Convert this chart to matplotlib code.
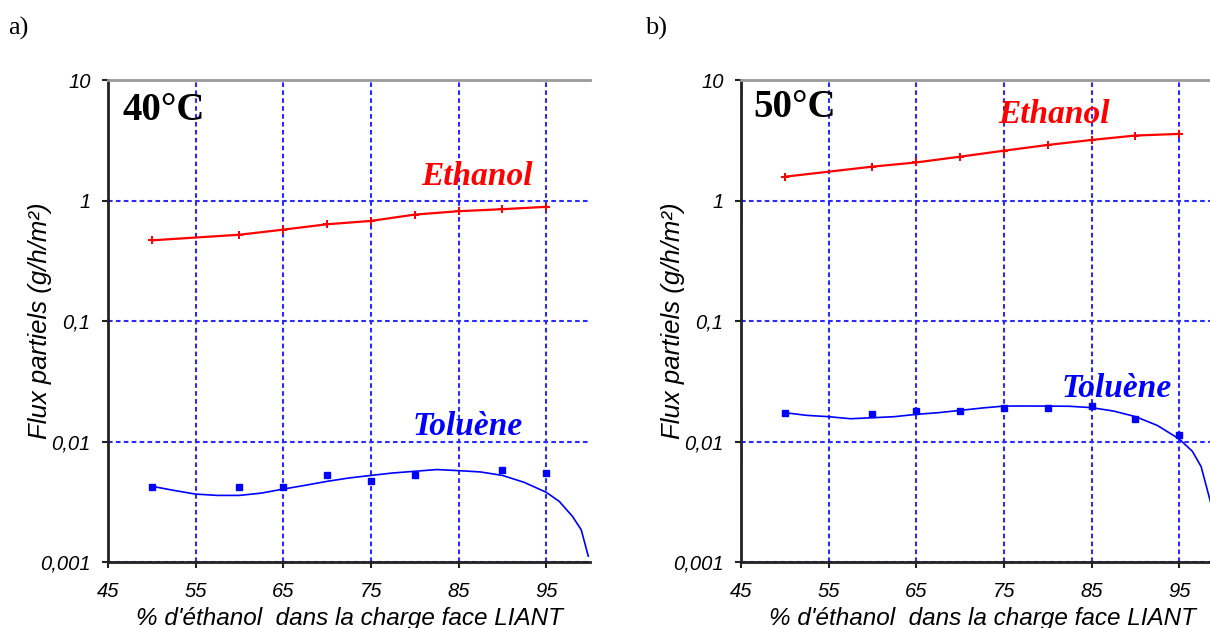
import matplotlib.pyplot as plt
from matplotlib.ticker import FixedLocator, FixedFormatter, NullLocator

# points mesures (% ethanol dans la charge)
x_eth = [50, 60, 65, 70, 75, 80, 85, 90, 95]
eth_40 = [0.467, 0.52, 0.573, 0.635, 0.677, 0.764, 0.815, 0.847, 0.886]
eth_50 = [1.575, 1.91, 2.07, 2.31, 2.59, 2.89, 3.18, 3.46, 3.57]

x_tol_40 = [50, 60, 65, 70, 75, 80, 90, 95]
tol_40 = [0.00419, 0.00419, 0.00416, 0.00523, 0.00473, 0.00531, 0.00585, 0.00548]
x_tol_50 = [50, 60, 65, 70, 75, 80, 85, 90, 95]
tol_50 = [0.0173, 0.0168, 0.0178, 0.0179, 0.0191, 0.0188, 0.0197, 0.0155, 0.0114]

# courbes de tendance du toluene
trend_x_40 = [50, 52.5, 55, 57.5, 60, 62.5, 65, 67.5, 70, 72.5, 75, 77.5, 80,
              82.5, 85, 87.5, 90, 92.5, 95, 96.5, 98, 99, 99.8]
trend_40 = [0.00425, 0.00393, 0.00366, 0.00357, 0.00357, 0.00373, 0.00403,
            0.00433, 0.00467, 0.00498, 0.00523, 0.00548, 0.00566, 0.00585,
            0.00573, 0.00559, 0.00523, 0.00458, 0.00379, 0.00318, 0.00239,
            0.00185, 0.00112]
trend_x_50 = [50, 52.5, 55, 57.5, 60, 62.5, 65, 67.5, 70, 72.5, 75, 77.5, 80,
              82.5, 85, 87.5, 90, 92.5, 95, 96.5, 97.5, 98.6]
trend_50 = [0.01734, 0.01648, 0.01607, 0.01545, 0.01575, 0.01607, 0.0168,
            0.01734, 0.01812, 0.01896, 0.01968, 0.0197, 0.01968, 0.0196,
            0.0191, 0.0179, 0.0161, 0.0136, 0.0105, 0.0083, 0.0062, 0.0031]

y_ticks = [0.001, 0.01, 0.1, 1, 10]
y_labels = ["0,001", "0,01", "0,1", "1", "10"]
x_ticks = [45, 55, 65, 75, 85, 95]
x_labels = ["45", "55", "65", "75", "85", "95"]

RED = "#ff0000"
BLUE = "#0000ff"
GRID = "#2a2aff"
sans = ["Liberation Sans", "DejaVu Sans"]
serif = ["Liberation Serif", "DejaVu Serif"]

fig = plt.figure(figsize=(12.1, 6.28), dpi=100)
W, H = 1210, 628


def make_axes(left_px):
    ax = fig.add_axes([left_px / W, (H - 562) / H, 482 / W, 482 / H])
    ax.set_yscale("log")
    ax.set_xlim(45, 100)
    ax.set_ylim(0.001, 10)
    ax.yaxis.set_major_locator(FixedLocator(y_ticks))
    ax.yaxis.set_major_formatter(FixedFormatter(y_labels))
    ax.yaxis.set_minor_locator(NullLocator())
    ax.xaxis.set_major_locator(FixedLocator(x_ticks))
    ax.xaxis.set_major_formatter(FixedFormatter(x_labels))
    ax.grid(True, color=GRID, lw=1.5, linestyle=(0, (2.2, 1.6)), zorder=0)
    ax.set_axisbelow(True)
    for s in ["left", "bottom"]:
        ax.spines[s].set_color("#222222")
        ax.spines[s].set_linewidth(2)
    ax.spines["top"].set_color("#9a9a9a")
    ax.spines["top"].set_linewidth(2)
    ax.spines["right"].set_visible(False)
    ax.tick_params(axis="both", direction="out", length=4.5, width=1.5,
                   color="#222222", labelsize=14.5)
    ax.tick_params(axis="y", pad=8)
    ax.tick_params(axis="x", pad=10)
    for lab in ax.get_xticklabels() + ax.get_yticklabels():
        lab.set_fontstyle("italic")
        lab.set_family(sans)
    ax.set_xlabel("% d'éthanol  dans la charge face LIANT", fontsize=17.5,
                  style="italic", family=sans)
    ax.xaxis.set_label_coords(0.5, -0.093)
    ax.set_ylabel("Flux partiels (g/h/m²)", fontsize=18.5, style="italic",
                  family=sans)
    ax.yaxis.set_label_coords(-0.141, 0.5)
    ax.yaxis.label.set_va("center")
    return ax


# a) 40 C
ax1 = make_axes(108)
ax1.plot(x_eth, eth_40, color=RED, lw=1.6, marker="P", ms=5.5, mew=0, zorder=3)
ax1.plot(trend_x_40, trend_40, color=BLUE, lw=1.2, zorder=3)
ax1.plot(x_tol_40, tol_40, ls="none", color=BLUE, marker="s", ms=4, zorder=3)
ax1.text(0.031, 0.917, "40°C", transform=ax1.transAxes, fontsize=28,
         fontweight="bold", family=serif, va="baseline")
ax1.text(0.650, 0.782, "Ethanol", transform=ax1.transAxes, fontsize=24,
         style="italic", fontweight="bold", family=serif, color=RED,
         va="baseline")
ax1.text(0.631, 0.263, "Toluène", transform=ax1.transAxes, fontsize=24,
         style="italic", fontweight="bold", family=serif, color=BLUE,
         va="baseline")

# b) 50 C
ax2 = make_axes(741)
ax2.plot(x_eth, eth_50, color=RED, lw=1.6, marker="P", ms=5.5, mew=0, zorder=3)
ax2.plot(trend_x_50, trend_50, color=BLUE, lw=1.2, zorder=3)
ax2.plot(x_tol_50, tol_50, ls="none", color=BLUE, marker="s", ms=4, zorder=3)
ax2.text(0.025, 0.923, "50°C", transform=ax2.transAxes, fontsize=28,
         fontweight="bold", family=serif, va="baseline")
ax2.text(0.533, 0.911, "Ethanol", transform=ax2.transAxes, fontsize=24,
         style="italic", fontweight="bold", family=serif, color=RED,
         va="baseline")
ax2.text(0.666, 0.342, "Toluène", transform=ax2.transAxes, fontsize=24,
         style="italic", fontweight="bold", family=serif, color=BLUE,
         va="baseline")

fig.text(8 / W, 1 - 35 / H, "a)", fontsize=19, family=serif, va="baseline")
fig.text(645 / W, 1 - 35 / H, "b)", fontsize=19, family=serif, va="baseline")

fig.savefig("out.png", dpi=100)
